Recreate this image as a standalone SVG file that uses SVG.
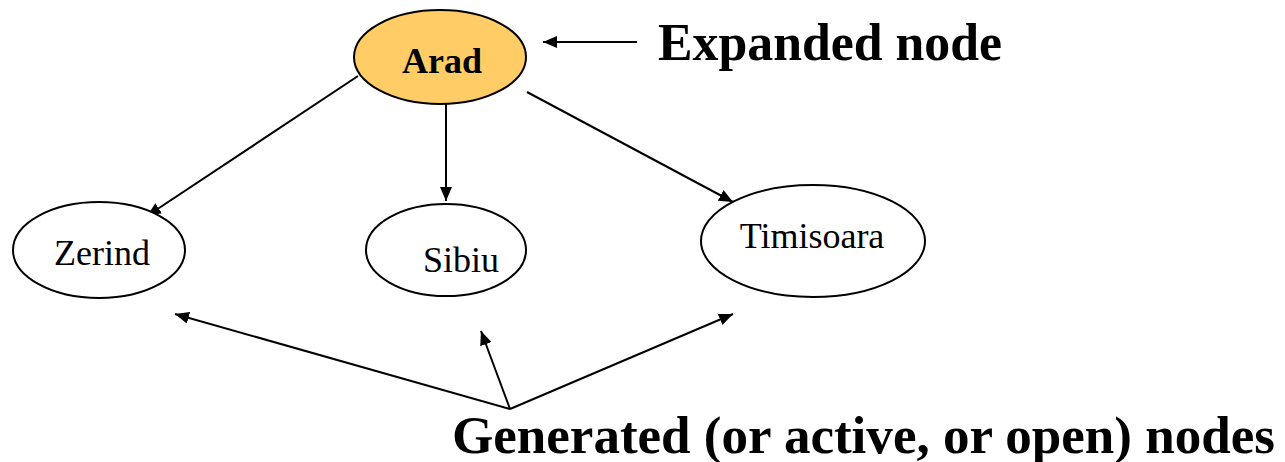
<svg xmlns="http://www.w3.org/2000/svg" width="1285" height="462" viewBox="0 0 1285 462">
  <style>
    .node { fill: #ffffff; stroke: #000000; stroke-width: 2; }
    .expanded { fill: #ffcc66; }
    .label { font-family: 'Liberation Serif', 'Times New Roman', Times, serif; font-size: 36px; fill: #000000; text-anchor: middle; }
    .bold { font-weight: bold; }
    .note { font-family: 'Liberation Serif', 'Times New Roman', Times, serif; font-size: 52px; font-weight: bold; fill: #000000; }
    .edge { stroke: #000000; stroke-width: 2; fill: none; marker-end: url(#arrow); }
  </style>
  <defs>
    <marker id="arrow" viewBox="0 0 14 12" refX="14" refY="6" markerWidth="14" markerHeight="12" markerUnits="userSpaceOnUse" orient="auto">
      <path d="M0,0 L14,6 L0,12 z" fill="#000000"/>
    </marker>
  </defs>

  <rect width="1285" height="462" fill="#ffffff"/>

  <g id="connectors">
    <line class="edge" x1="358" y1="76" x2="147" y2="216"/>
    <line class="edge" x1="446" y1="103" x2="446" y2="201"/>
    <line class="edge" x1="527" y1="92" x2="733" y2="202"/>
    <line class="edge" x1="637" y1="42" x2="543" y2="42"/>
    <line class="edge" x1="510" y1="409" x2="175" y2="314"/>
    <line class="edge" x1="510" y1="409" x2="481" y2="331"/>
    <line class="edge" x1="510" y1="409" x2="733" y2="314"/>
  </g>

  <g id="arad">
    <ellipse class="node expanded" cx="440" cy="57" rx="86" ry="47"/>
    <text class="label bold" x="442" y="73" font-family="Liberation Serif, serif">Arad</text>
  </g>

  <g id="zerind">
    <ellipse class="node" cx="99" cy="250" rx="86" ry="48"/>
    <text class="label" x="102" y="265" font-family="Liberation Serif, serif">Zerind</text>
  </g>

  <g id="sibiu">
    <ellipse class="node" cx="446" cy="250" rx="80" ry="46"/>
    <text class="label" x="461" y="272" font-family="Liberation Serif, serif">Sibiu</text>
  </g>

  <g id="timisoara">
    <ellipse class="node" cx="813" cy="241" rx="112" ry="56"/>
    <text class="label" x="812" y="248" font-family="Liberation Serif, serif">Timisoara</text>
  </g>

  <g id="expanded-note">
    <text class="note" x="658" y="60" textLength="344" lengthAdjust="spacingAndGlyphs">Expanded node</text>
  </g>

  <g id="generated-note">
    <text class="note" x="452" y="453" textLength="823" lengthAdjust="spacingAndGlyphs">Generated (or active, or open) nodes</text>
  </g>
</svg>
